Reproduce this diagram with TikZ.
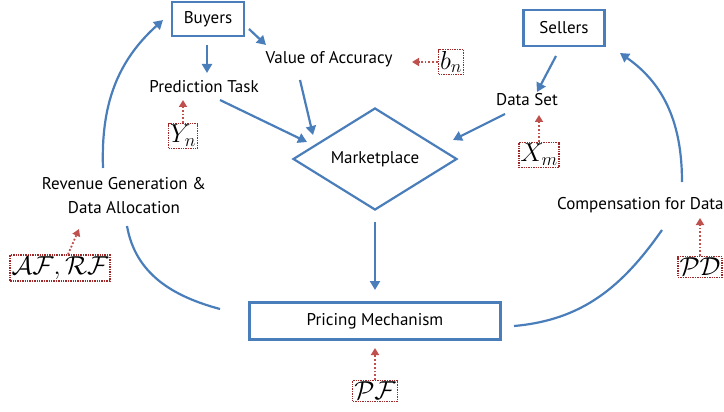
\RequirePackage{fix-cm}
\documentclass[tikz,border=0pt]{standalone}
\usepackage{amsmath,amssymb}
\usepackage{fontspec}
\setmainfont{PT Sans}
\usepackage{tikz}
\usetikzlibrary{arrows.meta,shapes.geometric,shadows}
\definecolor{flowblue}{RGB}{74,126,187}
\definecolor{hintred}{RGB}{192,80,77}
\definecolor{boxred}{RGB}{160,40,40}
\newcommand\m[1]{\mbox{$\displaystyle #1 $}}

\begin{document}
\begin{tikzpicture}[x=1pt,y=-1pt,
  box/.style={draw=flowblue,fill=white,line width=2.2pt,inner sep=0pt,font=\fontsize{17}{20}\selectfont,
    drop shadow={opacity=0.2,shadow xshift=1.2pt,shadow yshift=-1.2pt}},
  lbl/.style={inner sep=2pt,font=\fontsize{17}{24}\selectfont},
  var/.style={draw=boxred,densely dotted,line width=1.4pt,inner sep=1.5pt,font=\fontsize{26}{28}\selectfont},
  flow/.style={flowblue,line width=2.2pt,-{Triangle[length=9pt,width=10pt]}},
  arc/.style={flowblue,line width=2.2pt},
  hint/.style={hintred,dotted,line width=1.8pt,-{Triangle[length=7pt,width=8pt]}}]
\useasboundingbox (0,0) rectangle (724,412);

% boxes and labels
\node[box,minimum width=72pt,minimum height=34pt] (buyers) at (208,19) {Buyers};
\node[box,minimum width=81pt,minimum height=36pt] (sellers) at (564,28) {Sellers};
\node[box,minimum width=251pt,minimum height=37pt] (pricing) at (375,321) {Pricing Mechanism};
\node[diamond,draw=flowblue,line width=2.2pt,aspect=1.6,inner sep=0pt,
  minimum width=164pt,minimum height=102pt,font=\fontsize{17}{20}\selectfont] (market) at (375,159) {Marketplace};
\node[lbl] (value) at (329,59) {Value of Accuracy};
\node[lbl] (task) at (204,87) {Prediction Task};
\node[lbl] (dataset) at (527,100) {Data Set};
\node[lbl,align=center] (rev) at (124,196) {Revenue Generation \&\\Data Allocation};
\node[lbl,anchor=west] (comp) at (555,205) {Compensation for Data};

% variables
\node[var] (bn) at (451,62) {\m{b_n}};
\node[var] (yn) at (183,136) {\m{Y_n}};
\node[var] (xm) at (539,155) {\m{X_m}};
\node[var] (afrf) at (60,268) {\m{\mathcal{AF},\mathcal{RF}}};
\node[var] (pd) at (700,267) {\m{\mathcal{PD}}};
\node[var] (pf) at (375,391) {\m{\mathcal{PF}}};

% flow
\draw[flow] ([shift={(-1pt,-26pt)}]buyers.center) -- ([shift={(3pt,14pt)}]task.center);
\draw[flow] ([shift={(41pt,-10pt)}]buyers.center) -- ([shift={(-63pt,14pt)}]value.center);
\draw[flow] ([shift={(16pt,-13pt)}]task.center) -- ([shift={(-68pt,17pt)}]market.center);
\draw[flow] ([shift={(-29pt,-21pt)}]value.center) -- ([shift={(-62pt,24pt)}]market.center);
\draw[flow] ([shift={(-8pt,-28pt)}]sellers.center) -- ([shift={(10pt,8pt)}]dataset.center);
\draw[flow] ([shift={(-22pt,-14pt)}]dataset.center) -- ([shift={(78pt,19pt)}]market.center);
\draw[flow] ([shift={(0pt,-63pt)}]market.center) -- ([shift={(0pt,31pt)}]pricing.center);

% cycle
\draw[flow] ([shift={(-21pt,28pt)}]rev.center) to[out=92,in=222] ([shift={(-45pt,-1pt)}]buyers.center);
\draw[arc] ([shift={(3pt,-30pt)}]rev.center) to[out=-80,in=165] ([shift={(-155pt,12pt)}]pricing.center);
\draw[arc] ([shift={(139pt,-5pt)}]pricing.center) to[out=5,in=235] ([shift={(107pt,-25pt)}]comp.west);
\draw[flow] ([shift={(127pt,23pt)}]comp.west) to[out=90,in=-35] ([shift={(56pt,-25pt)}]sellers.center);

% hints
\draw[hint] (bn.west) -- ([shift={(83pt,-3pt)}]value.center);
\draw[hint] (yn.north) -- ([shift={(-21pt,-13pt)}]task.center);
\draw[hint] (xm.north) -- ([shift={(12pt,-15pt)}]dataset.center);
\draw[hint] ([xshift=8pt]afrf.north) -- ([shift={(-45pt,-33pt)}]rev.center);
\draw[hint] (pd.north) -- ([shift={(145pt,-13pt)}]comp.west);
\draw[hint] (pf.north) -- ([shift={(0pt,-27pt)}]pricing.center);
\end{tikzpicture}
\end{document}
